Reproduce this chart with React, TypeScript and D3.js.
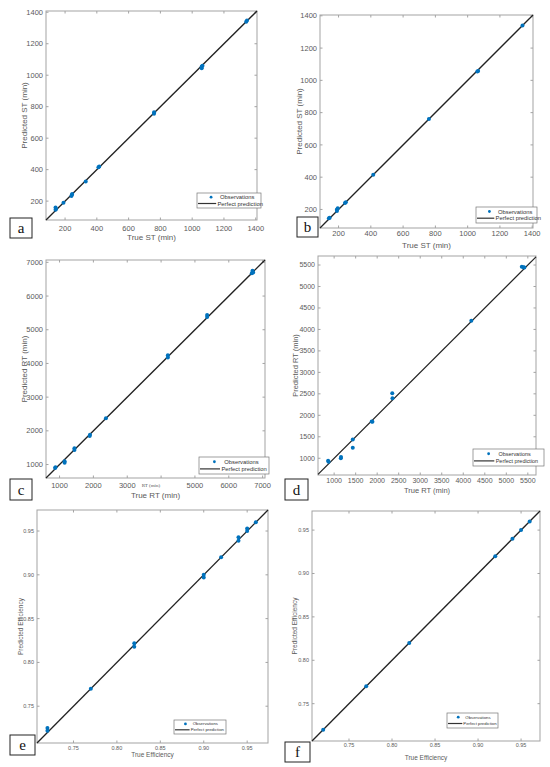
import React from 'react';
import * as d3 from 'd3';

// a: setup time, model 1
const aTrue = [140, 140, 143, 190, 240, 243, 245, 330, 410, 415, 760, 760, 1060, 1060, 1065, 1340, 1345];
const aPred = [145, 160, 150, 190, 232, 240, 245, 325, 415, 420, 755, 765, 1045, 1055, 1060, 1340, 1348];
// b: setup time, model 2
const bTrue = [140, 145, 190, 190, 195, 240, 245, 415, 760, 1060, 1065, 1340];
const bPred = [145, 148, 190, 200, 208, 240, 245, 415, 760, 1055, 1058, 1340];
// c: run time, model 1
const cTrue = [870, 880, 1150, 1150, 1440, 1440, 1890, 1900, 2370, 4200, 4200, 5360, 5360, 6680, 6700, 6720];
const cPred = [900, 920, 1050, 1100, 1430, 1480, 1850, 1880, 2370, 4180, 4240, 5380, 5440, 6680, 6750, 6700];
// d: run time, model 2
const dTrue = [860, 870, 1155, 1160, 1433, 1433, 1873, 1890, 2350, 2355, 4187, 5360, 5400, 5420];
const dPred = [940, 920, 1000, 1030, 1437, 1245, 1857, 1850, 2512, 2400, 4200, 5460, 5450, 5440];
// e: efficiency, model 1
const eTrue = [0.72, 0.72, 0.77, 0.82, 0.82, 0.9, 0.9, 0.92, 0.94, 0.94, 0.95, 0.95, 0.96];
const ePred = [0.722, 0.725, 0.77, 0.818, 0.822, 0.897, 0.9, 0.92, 0.939, 0.943, 0.95, 0.953, 0.96];
// f: efficiency, model 2
const fTrue = [0.72, 0.77, 0.82, 0.92, 0.94, 0.95, 0.96];
const fPred = [0.72, 0.77, 0.82, 0.92, 0.94, 0.95, 0.96];

const stTicks = [200, 400, 600, 800, 1000, 1200, 1400];
const rtTicksC = [1000, 2000, 3000, 4000, 5000, 6000, 7000];
const rtTicksD = [1000, 1500, 2000, 2500, 3000, 3500, 4000, 4500, 5000, 5500];
const effTicks = [0.75, 0.8, 0.85, 0.9, 0.95];

const BLUE = '#0072BD';
const AXIS = '#a3a3a3';
const TXT = '#5a5a5a';
const FONT = 'Liberation Sans, Arial, sans-serif';

const panels = [
  {
    id: 'a', tx: aTrue, py: aPred, ticks: stTicks, fmt: d3.format('d'),
    xDom: [80, 1408], yDom: [80, 1408], box: [46, 257, 11, 220],
    xLabel: 'True ST (min)', yLabel: 'Predicted ST (min)',
    tickY: 230.5, xLabY: 240, yLabX: 24, fs: 7.5, lfs: 8,
    legend: [197, 193, 64, 15], lab: [10, 218, 22, 20],
  },
  {
    id: 'b', tx: bTrue, py: bPred, ticks: stTicks, fmt: d3.format('d'),
    xDom: [85, 1405], yDom: [85, 1405], box: [320, 533, 15, 228],
    xLabel: 'True ST (min)', yLabel: 'Predicted ST (min)',
    tickY: 235.5, xLabY: 248, yLabX: 299, fs: 7.5, lfs: 8,
    legend: [476, 207, 61, 16], lab: [297, 217, 21, 20],
  },
  {
    id: 'c', tx: cTrue, py: cPred, ticks: rtTicksC, fmt: d3.format('d'),
    xDom: [600, 7070], yDom: [600, 7070], box: [46, 265, 260, 478],
    xLabel: 'True RT (min)', yLabel: 'Predicted RT (min)',
    tickY: 487.5, xLabY: 498, yLabX: 24, fs: 7.5, lfs: 8,
    legend: [199, 457, 70, 17], lab: [10, 479, 22, 21],
    // in the original the 4000 label is covered by a leftover "RT (min)" label
    hideX: [4000],
  },
  {
    id: 'd', tx: dTrue, py: dPred, ticks: rtTicksD, fmt: d3.format('d'),
    xDom: [625, 5690], yDom: [610, 5710], box: [318, 536, 256, 475],
    xLabel: 'True RT (min)', yLabel: 'Predicted RT (min)',
    tickY: 482.5, xLabY: 493, yLabX: 295, fs: 7, lfs: 7.5,
    legend: [473, 449, 71, 17], lab: [285, 479, 23, 21],
  },
  {
    id: 'e', tx: eTrue, py: ePred, ticks: effTicks, fmt: d3.format('.2f'),
    xDom: [0.708, 0.974], yDom: [0.708, 0.974], box: [37, 268, 510, 743],
    xLabel: 'True Efficiency', yLabel: 'Predicted Efficiency',
    tickY: 749.5, xLabY: 757, yLabX: 21, fs: 5.5, lfs: 6.5,
    legend: [174, 720, 52, 14], lab: [10, 735, 25, 20],
  },
  {
    id: 'f', tx: fTrue, py: fPred, ticks: effTicks, fmt: d3.format('.2f'),
    xDom: [0.707, 0.972], yDom: [0.707, 0.972], box: [312, 540, 511, 741],
    xLabel: 'True Efficiency', yLabel: 'Predicted Efficiency',
    tickY: 747, xLabY: 760, yLabX: 295, fs: 5.5, lfs: 6.5,
    legend: [447, 713, 51, 15], lab: [285, 742, 25, 20],
  },
];

function Panel({ p }) {
  const [l, r, t, b] = p.box;
  const x = d3.scaleLinear().domain(p.xDom).range([l, r]);
  const y = d3.scaleLinear().domain(p.yDom).range([b, t]);
  const lo = Math.max(p.xDom[0], p.yDom[0]);
  const hi = Math.min(p.xDom[1], p.yDom[1]);
  const line = d3.line().x((d) => x(d)).y((d) => y(d));
  const [lx, ly, lw, lh] = p.legend;
  const lfs = p.fs * 0.78;
  const hide = p.hideX || [];
  return (
    <g fontFamily={FONT}>
      <rect x={l} y={t} width={r - l} height={b - t} fill="white" stroke={AXIS} strokeWidth={1} />
      {p.ticks.map((v) => (
        <g key={'x' + v}>
          <line x1={x(v)} x2={x(v)} y1={b} y2={b - 2.5} stroke={AXIS} />
          <line x1={x(v)} x2={x(v)} y1={t} y2={t + 2.5} stroke={AXIS} />
          {!hide.includes(v) && (
            <text x={x(v)} y={p.tickY} fontSize={p.fs} fill={TXT} textAnchor="middle">{p.fmt(v)}</text>
          )}
        </g>
      ))}
      {p.ticks.map((v) => (
        <g key={'y' + v}>
          <line x1={l} x2={l + 2.5} y1={y(v)} y2={y(v)} stroke={AXIS} />
          <line x1={r} x2={r - 2.5} y1={y(v)} y2={y(v)} stroke={AXIS} />
          <text x={l - 3} y={y(v)} dy="0.35em" fontSize={p.fs} fill={TXT} textAnchor="end">{p.fmt(v)}</text>
        </g>
      ))}
      <path d={line([lo, hi])} stroke="#222" strokeWidth={1.3} fill="none" />
      {p.tx.map((v, i) => (
        <circle key={i} cx={x(v)} cy={y(p.py[i])} r={2} fill={BLUE} />
      ))}
      <text x={(l + r) / 2} y={p.xLabY} fontSize={p.lfs} fill={TXT} textAnchor="middle">{p.xLabel}</text>
      <text transform={`translate(${p.yLabX},${(t + b) / 2}) rotate(-90)`} fontSize={p.lfs} fill={TXT} textAnchor="middle" dy="0.35em">{p.yLabel}</text>
      <rect x={lx} y={ly} width={lw} height={lh} fill="white" stroke="#777" strokeWidth={0.7} />
      <circle cx={lx + lw * 0.22} cy={ly + lh * 0.28} r={1.4} fill={BLUE} />
      <text x={lx + lw * 0.36} y={ly + lh * 0.28} dy="0.35em" fontSize={lfs} fill="#333">Observations</text>
      <line x1={lx + 1} x2={lx + lw * 0.3} y1={ly + lh * 0.7} y2={ly + lh * 0.7} stroke="#333" strokeWidth={1.2} />
      <text x={lx + lw * 0.32} y={ly + lh * 0.7} dy="0.35em" fontSize={lfs} fill="#333">Perfect prediction</text>
      <rect x={p.lab[0]} y={p.lab[1]} width={p.lab[2]} height={p.lab[3]} fill="white" stroke="#222" strokeWidth={1} />
      <text x={p.lab[0] + p.lab[2] / 2} y={p.lab[1] + p.lab[3] / 2} dy="0.35em" textAnchor="middle" fontFamily="Liberation Serif, Times New Roman, serif" fontSize={15} fill="#111">{p.id}</text>
    </g>
  );
}

export default function App() {
  return (
    <svg width={550} height={767} style={{ position: 'absolute', left: 0, top: 0, background: 'white' }}>
      <rect width={550} height={767} fill="white" />
      {panels.map((p) => <Panel key={p.id} p={p} />)}
      {/* stray label left in the original figure c */}
      <text x={151} y={485} dy="0.35em" fontSize={5} fontFamily="Liberation Serif, serif" fill="#555" textAnchor="middle">RT (min)</text>
    </svg>
  );
}
